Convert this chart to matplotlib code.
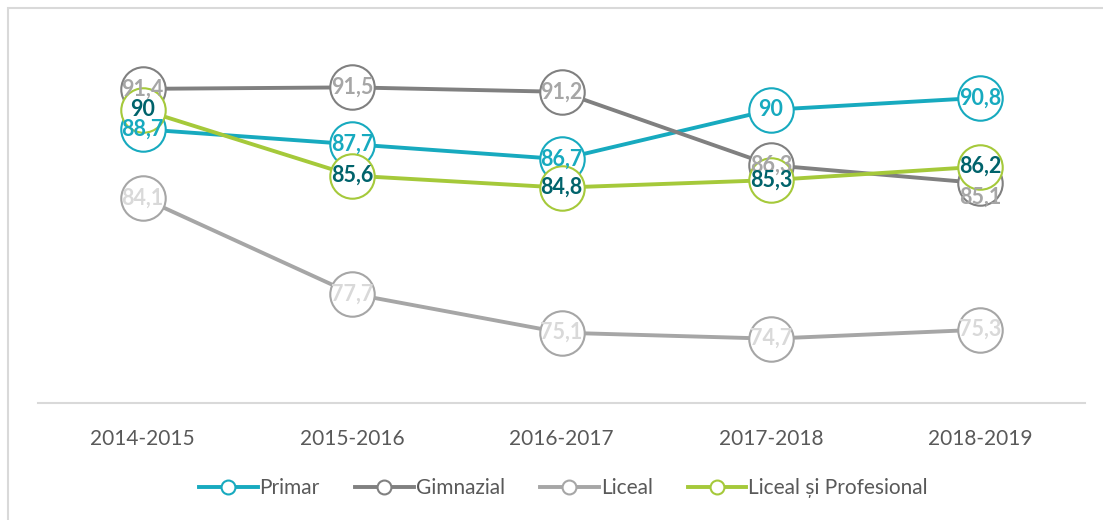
import matplotlib.pyplot as plt
from matplotlib.patches import Rectangle

years = ['2014-2015', '2015-2016', '2016-2017', '2017-2018', '2018-2019']
primar = [88.7, 87.7, 86.7, 90, 90.8]
gimnazial = [91.4, 91.5, 91.2, 86.3, 85.1]
liceal = [84.1, 77.7, 75.1, 74.7, 75.3]
liceal_prof = [90, 85.6, 84.8, 85.3, 86.2]

names = ['Primar', 'Gimnazial', 'Liceal', 'Liceal și Profesional']
line_colors = ['#17AABF', '#808080', '#A6A6A6', '#A5C93A']
label_colors = ['#17AABF', '#A6A6A6', '#D9D9D9', '#00636B']

plt.rcParams['font.family'] = ['Lato', 'DejaVu Sans']

fig = plt.figure(figsize=(11.03, 5.2), dpi=100)
ax = fig.add_axes([38 / 1103, 1 - 403 / 520, 1047 / 1103, 368 / 520])

# chart frame (partially cropped in the reference)
fig.patches.append(Rectangle((8 / 1103, -0.1), 1.2, 1 - 8 / 520 + 0.1,
                             transform=fig.transFigure, fill=False,
                             edgecolor='#D9D9D9', linewidth=1.5))

x = list(range(len(years)))
series = [primar, gimnazial, liceal, liceal_prof]
for i, vals in enumerate(series):
    ax.plot(x, vals, color=line_colors[i], linewidth=2.8, marker='o',
            markersize=32, markerfacecolor='white',
            markeredgecolor=line_colors[i], markeredgewidth=1.5,
            label=names[i], zorder=2 + i)

for i, vals in enumerate(series):
    for j, v in enumerate(vals):
        txt = ('%g' % v).replace('.', ',')
        dy = 0
        if i == 1 and j == 4:
            dy = -0.95
        ax.text(j, v + dy, txt, ha='center', va='center', fontsize=15.5,
                fontweight='bold', color=label_colors[i], zorder=10)

ax.set_xlim(-0.5, 4.5)
ax.set_ylim(70.4, 95)
ax.set_xticks(x)
ax.set_xticklabels(years, fontsize=15, color='#595959')
ax.tick_params(axis='x', length=0, pad=19)
ax.set_yticks([])
for s in ['top', 'right', 'left']:
    ax.spines[s].set_visible(False)
ax.spines['bottom'].set_color('#D9D9D9')
ax.spines['bottom'].set_linewidth(1.5)

handles, labels = ax.get_legend_handles_labels()
leg = fig.legend(handles, labels, loc='center', bbox_to_anchor=(0.511, 1 - 488 / 520),
                 ncol=4, frameon=False, fontsize=15, labelcolor='#595959',
                 handlelength=2.8, columnspacing=1.7, handletextpad=0.1,
                 markerscale=0.3)
for line in leg.get_lines():
    line.set_markersize(10)
    line.set_linewidth(2.8)

fig.savefig('out.png', dpi=100)
